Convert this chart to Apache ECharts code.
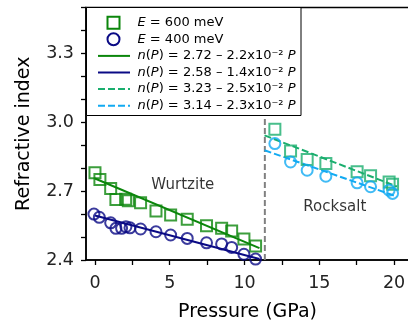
<!DOCTYPE html>
<html>
<head>
<meta charset="utf-8">
<script src="https://cdn.jsdelivr.net/npm/echarts@6/dist/echarts.min.js"></script>
<style>html,body{margin:0;padding:0;background:#fff}#c{width:408px;height:323px}</style>
</head>
<body>
<div id="c"></div>
<script>
// ---- data ----
const wzP600 = [0, 0.33, 1.05, 1.4, 2.05, 2.23, 3.05, 4.08, 5.06, 6.17, 7.46, 8.47, 9.14, 9.96, 10.74];
const wzN600 = [2.780, 2.751, 2.712, 2.664, 2.665, 2.658, 2.649, 2.614, 2.596, 2.577, 2.549, 2.538, 2.526, 2.491, 2.461];
const wzP400 = [-0.07, 0.29, 1.05, 1.4, 1.78, 2.07, 2.34, 3.05, 4.08, 5.06, 6.17, 7.46, 8.47, 9.14, 9.96, 10.74];
const wzN400 = [2.600, 2.586, 2.562, 2.538, 2.538, 2.545, 2.540, 2.535, 2.523, 2.509, 2.494, 2.475, 2.470, 2.455, 2.425, 2.404];
const rsP600 = [12.03, 13.08, 14.19, 15.44, 17.53, 18.43, 19.67, 19.9];
const rsN600 = [2.970, 2.875, 2.838, 2.820, 2.784, 2.767, 2.740, 2.730];
const rsP400 = [12.03, 13.08, 14.19, 15.44, 17.53, 18.43, 19.67, 19.9];
const rsN400 = [2.907, 2.827, 2.791, 2.765, 2.736, 2.719, 2.704, 2.690];
// fit lines (end points)
const fitWzP = [0, 11.0];
const fitWz600N = [2.755, 2.452];
const fitWz400N = [2.594, 2.404];
const fitRsP = [11.34, 20.2];
const fitRs600N = [2.943, 2.720];
const fitRs400N = [2.878, 2.676];
const boundaryP = 11.36;
const yRange = [2.4, 3.5];
// ticks
const xTickVals = [0, 2.5, 5, 7.5, 10, 12.5, 15, 17.5, 20];
const xLabelVals = [0, 5, 10, 15, 20];
const yTickVals = [2.4, 2.5, 2.6, 2.7, 2.8, 2.9, 3.0, 3.1, 3.2, 3.3, 3.4, 3.5];
const yLabelVals = [2.4, 2.7, 3.0, 3.3];
// text
const legendTexts = [
  '{i|E} = 600 meV',
  '{i|E} = 400 meV',
  '{i|n}({i|P}) = 2.72 – 2.2x10⁻² {i|P}',
  '{i|n}({i|P}) = 2.58 – 1.4x10⁻² {i|P}',
  '{i|n}({i|P}) = 3.23 – 2.5x10⁻² {i|P}',
  '{i|n}({i|P}) = 3.14 – 2.3x10⁻² {i|P}'
];
const phaseLabels = [
  {name: 'Wurtzite', value: [5.87, 2.727]},
  {name: 'Rocksalt', value: [16.04, 2.631]}
];

const FF = 'DejaVu Sans';
const zip = (a, b) => a.map((v, i) => [v, b[i]]);

const cG = '#0b860b', cN = '#0a0a85', cRG = '#1aae6e', cRB = '#12aaf2';

function scatter(name, xs, ys, sym, col) {
  return {
    name, type: 'scatter', data: zip(xs, ys), symbol: sym, symbolSize: 11, z: 4,
    itemStyle: {color: 'transparent', borderColor: col, borderWidth: 2}
  };
}
function fit(name, xs, ys, col, dashed) {
  return {
    name, type: 'line', data: zip(xs, ys), symbol: 'none', z: 3,
    lineStyle: {color: col, width: 2, type: dashed ? [7, 3] : 'solid'},
    itemStyle: {color: col}
  };
}

// legend drawn as graphic (box + icons + text)
const legBox = {x: 86.5, y: 7.5, w: 214.5, h: 108};
const rowY0 = 22.7, rowDy = 16.6;
const iconKinds = [['rect', cG], ['circle', cN], ['line', cG], ['line', cN], ['dash', cRG], ['dash', cRB]];
const legendGraphics = [{
  type: 'rect', shape: {x: legBox.x, y: legBox.y, width: legBox.w, height: legBox.h},
  style: {fill: '#fff', stroke: '#000', lineWidth: 1}, z: 100
}];
iconKinds.forEach(([k, col], i) => {
  const cy = rowY0 + i * rowDy;
  if (k === 'rect') {
    legendGraphics.push({type: 'rect', shape: {x: 107.5, y: cy - 6, width: 12, height: 12},
      style: {fill: 'none', stroke: col, lineWidth: 2}, z: 101});
  } else if (k === 'circle') {
    legendGraphics.push({type: 'circle', shape: {cx: 113.5, cy: cy, r: 6},
      style: {fill: 'none', stroke: col, lineWidth: 2}, z: 101});
  } else {
    legendGraphics.push({type: 'line', shape: {x1: 98, y1: cy, x2: 130, y2: cy},
      style: {stroke: col, lineWidth: 2, lineDash: k === 'dash' ? [7, 3] : null}, z: 101});
  }
  legendGraphics.push({
    type: 'text', x: 137.5, y: cy, z: 101,
    style: {
      text: legendTexts[i], fontFamily: FF, fontSize: 13, fill: '#000', verticalAlign: 'middle',
      rich: {i: {fontStyle: 'italic', fontFamily: FF, fontSize: 13, fill: '#000'}}
    }
  });
});

const chart = echarts.init(document.getElementById('c'), null, {renderer: 'canvas'});
chart.setOption({
  animation: false,
  backgroundColor: '#fff',
  grid: {left: 86, top: 7.5, width: 323, height: 252.5, outerBoundsMode: 'none', containLabel: false,
    show: true, borderColor: '#000', borderWidth: 1.5, backgroundColor: 'transparent'},
  xAxis: {
    type: 'value', min: -0.6, max: 21,
    splitLine: {show: false},
    axisLine: {onZero: false, lineStyle: {color: '#000', width: 1.5}},
    axisTick: {customValues: xTickVals, length: 5, lineStyle: {color: '#000', width: 1.3}},
    axisLabel: {customValues: xLabelVals, fontSize: 17.5, color: '#222', margin: 14, fontFamily: FF},
    name: 'Pressure (GPa)', nameLocation: 'middle', nameGap: 43,
    nameTextStyle: {fontSize: 19, color: '#000', fontFamily: FF}
  },
  yAxis: {
    type: 'value', min: yRange[0], max: yRange[1],
    splitLine: {show: false},
    axisLine: {onZero: false, lineStyle: {color: '#000', width: 1.5}},
    axisTick: {customValues: yTickVals, length: 5, lineStyle: {color: '#000', width: 1.3}},
    axisLabel: {customValues: yLabelVals, fontSize: 17.5, color: '#222', margin: 12, fontFamily: FF, formatter: v => v.toFixed(1)},
    name: 'Refractive index', nameLocation: 'middle', nameGap: 52,
    nameTextStyle: {fontSize: 19, color: '#000', fontFamily: FF}
  },
  graphic: legendGraphics,
  series: [
    {
      name: 'boundary', type: 'line', data: [[boundaryP, yRange[0]], [boundaryP, yRange[1]]], symbol: 'none', z: 1,
      lineStyle: {color: '#808080', width: 2, type: [6, 3]}
    },
    fit('fitWz600', fitWzP, fitWz600N, cG, false),
    fit('fitWz400', fitWzP, fitWz400N, cN, false),
    fit('fitRs600', fitRsP, fitRs600N, cRG, true),
    fit('fitRs400', fitRsP, fitRs400N, cRB, true),
    scatter('wz600', wzP600, wzN600, 'rect', cG),
    scatter('wz400', wzP400, wzN400, 'circle', cN),
    scatter('rs600', rsP600, rsN600, 'rect', cRG),
    scatter('rs400', rsP400, rsN400, 'circle', cRB),
    {
      name: 'labels', type: 'scatter', data: phaseLabels, symbolSize: 0, z: 5,
      label: {show: true, position: 'inside', formatter: '{b}', fontSize: 15, color: '#000', fontFamily: FF}
    }
  ]
});
</script>
</body>
</html>
